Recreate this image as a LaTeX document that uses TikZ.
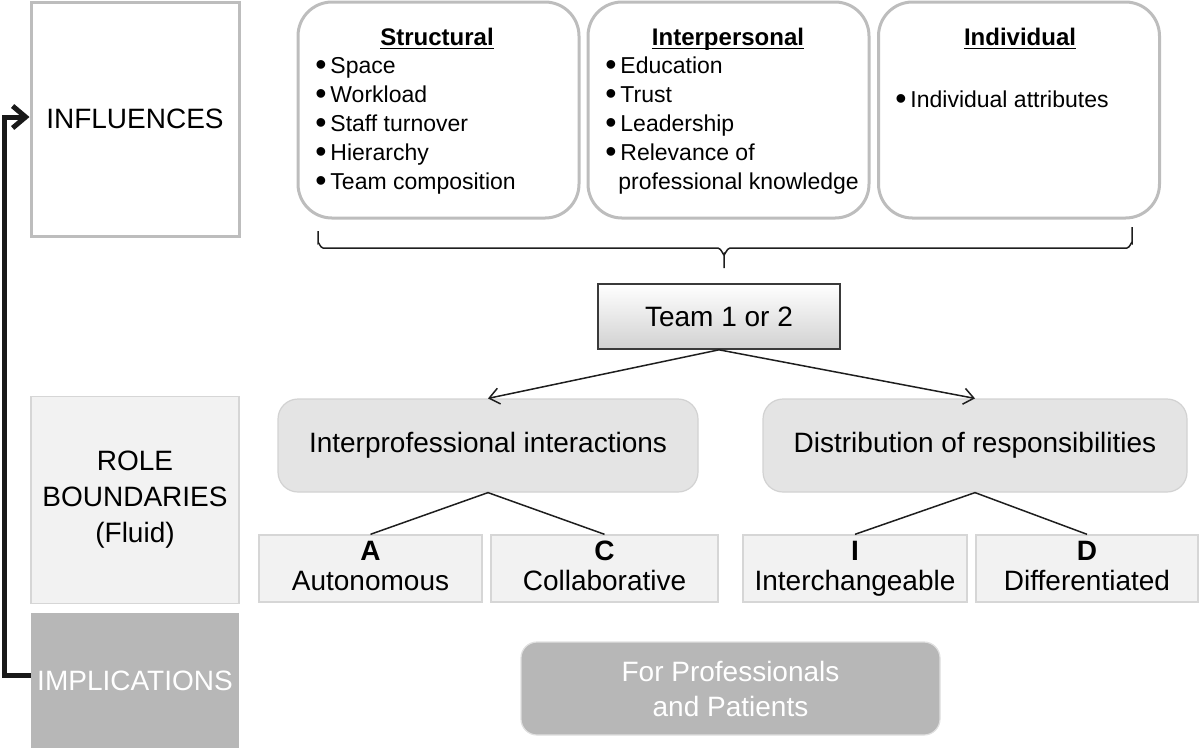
\documentclass[tikz,border=0pt]{standalone}
\usepackage{fontspec}
\setmainfont{Liberation Sans}
\usetikzlibrary{arrows.meta}
\definecolor{rimgray}{HTML}{BDBDBD}
\definecolor{rolefill}{HTML}{F2F2F2}
\definecolor{rolerim}{HTML}{D6D6D6}
\definecolor{midfill}{HTML}{E4E4E4}
\definecolor{midrim}{HTML}{D2D2D2}
\definecolor{darkfill}{HTML}{B7B7B7}
\definecolor{inkline}{HTML}{1E1E1E}
\definecolor{teamrim}{HTML}{3A3A3A}
\newcommand{\bulitem}{{\fontsize{16}{14}\selectfont\raisebox{-1.4pt}{\textbullet}}\,}
\newcommand{\headline}[1]{\underline{\smash{#1}}}
\begin{document}
\begin{tikzpicture}[x=0.5pt,y=-0.5pt,
  bigfont/.style={font=\fontsize{14}{18}\selectfont},
  leftbox/.style={draw=rimgray, line width=1.5pt, fill=white, minimum width=104pt, inner sep=0pt, bigfont},
  rolebox/.style={draw=rolerim, line width=0.6pt, fill=rolefill, minimum width=104pt, inner sep=0pt, bigfont, align=center},
  implbox/.style={draw=none, fill=darkfill, minimum width=104pt, inner sep=0pt, bigfont, text=white},
  topbox/.style={draw=rimgray, line width=1.5pt, fill=white, rounded corners=17pt, minimum width=140.5pt, minimum height=108pt},
  headtxt/.style={font=\fontsize{12}{14}\selectfont\bfseries, anchor=base, inner sep=0pt},
  itemtxt/.style={font=\fontsize{11.5}{14}\selectfont, anchor=base west, inner sep=0pt},
  teambox/.style={draw=teamrim, line width=0.8pt, top color=white, bottom color=black!18, minimum width=121pt, minimum height=32.5pt, bigfont},
  midbox/.style={draw=midrim, line width=0.6pt, fill=midfill, rounded corners=10pt, minimum height=46.5pt, bigfont},
  typebox/.style={draw=rolerim, line width=0.7pt, fill=rolefill, minimum height=33.5pt, inner sep=0pt, align=center, font=\fontsize{14}{15}\selectfont},
  patbox/.style={draw=black!12, line width=0.6pt, fill=darkfill, rounded corners=8pt, minimum width=209.5pt, minimum height=46.5pt, text=white, align=center, font=\fontsize{14}{17.5}\selectfont},
  thinline/.style={draw=inkline, line width=0.75pt},
  thinarrow/.style={thinline, -{Straight Barb[length=5pt,width=8pt]}},
  feedback/.style={draw=black!90, line width=2.5pt, -{Straight Barb[length=6.5pt,width=11pt]}}
]
\useasboundingbox (0,0) rectangle (1200,752);

% left column
\node[leftbox, minimum height=117pt] (infl) at (135,119) {INFLUENCES};
\node[rolebox, minimum height=103.5pt] (role) at (135,500) {ROLE\\BOUNDARIES\\(Fluid)};
\node[implbox, minimum height=67.5pt] (impl) at (135,680.5) {IMPLICATIONS};

% top boxes
\node[topbox] (structbox) at (438.5,110) {};
\node[topbox] (interbox) at (728.5,110) {};
\node[topbox] (indivbox) at (1019,110) {};

\node[headtxt] (sh) at (437,45.5) {\headline{Structural}};
\node[itemtxt] (s1) at (315,73) {\bulitem Space};
\node[itemtxt] (s2) at (315,102) {\bulitem Workload};
\node[itemtxt] (s3) at (315,131) {\bulitem Staff turnover};
\node[itemtxt] (s4) at (315,160) {\bulitem Hierarchy};
\node[itemtxt] (s5) at (315,189) {\bulitem Team composition};

\node[headtxt] (ih) at (728,45.5) {\headline{Interpersonal}};
\node[itemtxt] (i1) at (605,73) {\bulitem Education};
\node[itemtxt] (i2) at (605,102) {\bulitem Trust};
\node[itemtxt] (i3) at (605,131) {\bulitem Leadership};
\node[itemtxt] (i4) at (605,160) {\bulitem Relevance of};
\node[itemtxt] (i5) at (618,189) {professional knowledge};

\node[headtxt] (dh) at (1020,45.5) {\headline{Individual}};
\node[itemtxt] (d1) at (895,107) {\bulitem Individual attributes};

% brace
\draw[thinline] (318,231) -- (318,243) to[out=90,in=180] (323,248) -- (718,248)
  to[out=0,in=-90] (724,254) -- (724,268);
\draw[thinline] (724,254) to[out=-90,in=180] (730,248) -- (1127,248)
  to[out=0,in=90] (1132,243) -- (1132,227);

% team
\node[teambox] (team) at (719,316.5) {Team 1 or 2};

% middle boxes
\node[midbox, minimum width=210pt] (ipi) at (488,445.5) {Interprofessional interactions};
\node[midbox, minimum width=212pt] (dist) at (975,445.5) {Distribution of responsibilities};

\draw[thinarrow] (team.south) -- (ipi.north);
\draw[thinarrow] (team.south) -- (dist.north);

% type boxes
\node[typebox, minimum width=111.5pt] (ta) at (370.5,568.5) {\textbf{A}\\Autonomous\vphantom{g}};
\node[typebox, minimum width=113.5pt] (tc) at (604.5,568.5) {\textbf{C}\\Collaborative\vphantom{g}};
\node[typebox, minimum width=112pt] (ti) at (855,568.5) {\textbf{I}\\Interchangeable\vphantom{g}};
\node[typebox, minimum width=111pt] (td) at (1087,568.5) {\textbf{D}\\Differentiated\vphantom{g}};

\draw[thinline] (ipi.south) -- (ta.north);
\draw[thinline] (ipi.south) -- (tc.north);
\draw[thinline] (dist.south) -- (ti.north);
\draw[thinline] (dist.south) -- (td.north);

% implications box
\node[patbox] (pat) at (730.5,688.5) {For Professionals\\and Patients};

% feedback arrow
\draw[feedback] ([yshift=2.75pt]impl.west) -- ++(-26,0) |- ([yshift=1pt]infl.west);
\end{tikzpicture}
\end{document}
